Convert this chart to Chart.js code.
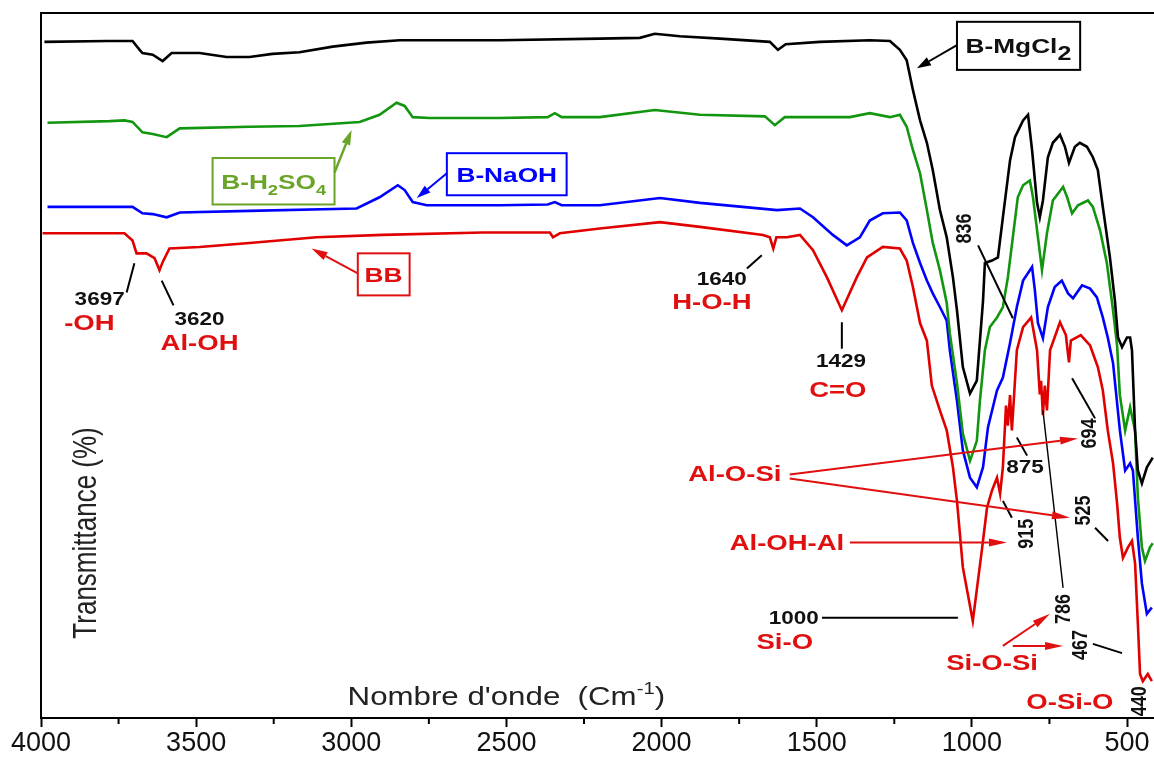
<!DOCTYPE html>
<html><head><meta charset="utf-8">
<script src="https://cdn.jsdelivr.net/npm/chart.js@4.4.0/dist/chart.umd.min.js"></script>
<style>html,body{margin:0;padding:0;background:#fff;}canvas{display:block;}</style>
</head><body>
<canvas id="c" width="1154" height="760"></canvas>
<script>
// ---- data (wavenumber cm-1, transmittance in arbitrary offset %) ----
const xTickValues = [4000, 3500, 3000, 2500, 2000, 1500, 1000, 500];
const xMinorTickValues = [3750, 3250, 2750, 2250, 1750, 1250, 750];

const mgcl2Wn = [3989,3786,3705,3682,3673,3640,3608,3579,3489,3402,3328,3254,3167,3060,2951,2844,2522,2199,2070,2022,1941,1812,1651,1625,1600,1490,1329,1264,1232,1210,1190,1167,1145,1126,1103,1081,1061,1048,1029,1006,984,964,958,935,916,900,877,861,835,819,806,790,781,771,755,739,716,700,687,668,652,629,610,594,578,555,539,529,516,500,490,484,474,465,452,436,417];
const mgcl2T = [84.4,84.5,84.5,83.4,83.0,82.8,82.0,83.0,83.0,82.5,82.5,82.9,83.1,83.8,84.3,84.6,84.6,84.8,84.9,85.4,85.1,84.8,84.4,83.4,84.1,84.4,84.6,84.5,83.4,82.1,78.4,74.6,71.8,68.4,63.4,60.0,55.0,50.9,43.8,40.5,42.1,52.1,56.8,57.1,57.5,62.5,69.6,72.5,74.6,75.3,70.9,64.3,62.5,64.6,70.0,71.8,72.8,71.3,69.3,71.3,71.8,71.3,70.0,68.4,63.8,57.5,52.1,47.5,46.3,47.5,47.5,45.9,35.9,30.9,29.3,31.3,32.5];

const h2so4Wn = [3979,3779,3731,3705,3673,3640,3595,3553,3328,3167,2973,2909,2854,2828,2802,2747,2522,2367,2344,2322,2199,2022,1876,1667,1635,1603,1393,1329,1264,1232,1210,1190,1167,1145,1126,1103,1081,1071,1048,1029,1006,984,974,958,942,919,900,884,868,852,835,813,803,787,774,758,739,706,693,677,658,626,610,587,565,545,532,523,506,490,474,465,452,442,426,417];
const h2so4T = [74.3,74.5,74.6,74.4,73.1,72.9,72.5,73.6,73.8,73.9,74.4,75.3,76.8,76.4,75.0,74.9,74.9,75.0,75.5,75.0,75.0,75.9,75.3,75.1,74.0,75.0,75.0,75.5,75.0,75.3,73.8,70.9,68.0,63.4,59.3,55.9,51.8,48.0,41.8,35.5,32.1,34.6,39.6,45.9,48.8,50.0,51.3,55.0,60.0,65.0,66.5,67.1,65.0,60.0,55.9,60.5,64.6,66.3,65.0,63.0,64.0,64.6,63.8,60.9,56.8,50.9,46.5,40.3,35.9,38.8,35.9,27.5,21.3,19.6,21.3,21.8];

const naohWn = [3979,3705,3673,3640,3595,3553,3328,2983,2909,2850,2828,2802,2757,2522,2367,2344,2322,2199,2005,1876,1628,1554,1512,1448,1403,1361,1329,1287,1232,1210,1190,1167,1145,1126,1103,1081,1071,1048,1029,1006,984,964,948,919,900,877,855,835,806,797,787,771,755,733,710,690,674,645,619,597,578,562,545,523,506,490,481,465,452,436,420];
const naohT = [63.8,63.8,63.0,62.9,62.5,63.1,63.3,63.6,65.0,66.5,65.9,64.4,64.0,64.0,64.1,64.4,64.0,64.0,64.9,64.3,63.4,63.6,62.5,60.3,59.0,60.0,62.1,63.0,63.1,62.1,59.3,56.8,54.6,53.0,51.3,49.6,45.9,39.6,33.4,30.0,28.8,31.3,36.3,40.9,42.5,46.8,51.3,54.6,56.3,53.4,49.3,47.4,51.3,53.8,54.6,53.0,52.4,54.0,53.6,52.5,50.0,47.5,44.3,35.9,30.9,31.8,30.9,22.5,16.8,13.0,13.8];

const bbWn = [3995,3731,3705,3692,3660,3634,3618,3608,3586,3489,3328,3112,2899,2576,2360,2350,2328,2199,2005,1876,1673,1651,1640,1630,1596,1554,1512,1467,1419,1371,1338,1287,1232,1210,1190,1167,1145,1129,1103,1081,1061,1048,1029,997,968,951,935,919,909,900,890,884,877,871,865,855,835,809,790,781,777,771,765,758,748,716,697,687,681,649,619,594,578,562,545,532,523,513,497,484,474,465,458,449,433,420];
const bbT = [60.5,60.5,59.6,58.0,58.0,57.4,55.9,56.9,58.6,58.8,59.3,60.0,60.3,60.6,60.6,60.0,60.5,61.1,61.9,61.3,60.3,60.0,58.6,60.0,60.0,60.3,58.4,55.0,50.9,55.0,57.5,58.8,58.6,57.1,53.8,49.3,47.1,41.5,38.4,35.9,31.3,27.1,18.8,12.1,20.9,26.3,28.4,30.0,28.0,31.3,39.0,36.5,40.3,35.9,39.6,45.9,48.8,50.0,45.9,40.4,42.1,37.8,41.5,38.4,45.9,49.4,47.8,44.4,47.1,47.8,46.5,43.8,40.9,35.9,31.8,26.8,22.5,20.0,21.3,22.1,19.3,11.8,5.5,4.6,5.5,4.6];

const seriesNames = ['B-MgCl2', 'B-H2SO4', 'B-NaOH', 'BB'];
const seriesColors = ['#000000', '#12960f', '#0000ff', '#e00000'];

function pts(wn, t) { return wn.map((w, i) => ({ x: w, y: t[i] })); }

const FONT = "'Liberation Sans', Arial, sans-serif";
const SX = 1.25;

function rich(ctx, x, y, segs, size, weight, color, rot, align) {
  ctx.save();
  ctx.translate(x, y);
  ctx.scale(SX, 1);
  if (rot) ctx.rotate(rot);
  ctx.fillStyle = color;
  ctx.textBaseline = 'alphabetic';
  ctx.textAlign = 'left';
  let widths = segs.map(s => { ctx.font = weight + ' ' + (size * (s.s || 1)) + 'px ' + FONT; return ctx.measureText(s.t).width; });
  const total = widths.reduce((a, b) => a + b, 0);
  let cx = align === 'left' ? 0 : -total / 2;
  const base = 0.36 * size;
  segs.forEach((s, i) => {
    ctx.font = weight + ' ' + (size * (s.s || 1)) + 'px ' + FONT;
    ctx.fillText(s.t, cx, base + (s.dy || 0) * size);
    cx += widths[i];
  });
  ctx.restore();
}
function txt(ctx, x, y, str, size, weight, color, rot, align) {
  rich(ctx, x, y, [{ t: str }], size, weight, color, rot, align);
}
function line(ctx, x1, y1, x2, y2, color, lw) {
  ctx.save(); ctx.strokeStyle = color; ctx.lineWidth = lw; ctx.beginPath(); ctx.moveTo(x1, y1); ctx.lineTo(x2, y2); ctx.stroke(); ctx.restore();
}
function arrow(ctx, x1, y1, x2, y2, color, lw, hl, hw) {
  const a = Math.atan2(y2 - y1, x2 - x1);
  const bx = x2 - hl * Math.cos(a), by = y2 - hl * Math.sin(a);
  ctx.save();
  ctx.strokeStyle = color; ctx.lineWidth = lw;
  ctx.beginPath(); ctx.moveTo(x1, y1); ctx.lineTo(bx, by); ctx.stroke();
  ctx.fillStyle = color;
  ctx.beginPath(); ctx.moveTo(x2, y2);
  ctx.lineTo(bx + hw * Math.sin(a), by - hw * Math.cos(a));
  ctx.lineTo(bx - hw * Math.sin(a), by + hw * Math.cos(a));
  ctx.closePath(); ctx.fill();
  ctx.restore();
}

const annotPlugin = {
  id: 'annot',
  afterDatasetsDraw(chart) {
    const ctx = chart.ctx, xs = chart.scales.x, ys = chart.scales.y;
    const X = w => xs.getPixelForValue(w), Y = t => ys.getPixelForValue(t);
    const RED = '#e01010', BLK = '#111111', OLIVE = '#6aa52a', BLUE = '#0000ff';
    const ROT = -Math.PI / 2;

    // minor ticks
    ctx.save();
    ctx.strokeStyle = '#000'; ctx.lineWidth = 2;
    xMinorTickValues.forEach(v => { const p = X(v); ctx.beginPath(); ctx.moveTo(p, xs.top); ctx.lineTo(p, xs.top + 6); ctx.stroke(); });
    ctx.restore();

    // boxes with labels
    function box(w1, t1, w2, t2, color) {
      ctx.save(); ctx.strokeStyle = color; ctx.lineWidth = 2;
      ctx.strokeRect(X(w1), Y(t1), X(w2) - X(w1), Y(t2) - Y(t1)); ctx.restore();
    }
    box(1048, 86.9, 651, 80.9, '#000');
    rich(ctx, X(850), Y(83.9), [{ t: 'B-MgCl' }, { t: '2', s: 0.95, dy: 0.3 }], 21, 'bold', BLK, 0);
    arrow(ctx, X(1048), Y(84.0), X(1177), Y(81.1), '#000', 2, 14, 4.5);

    box(3447, 69.9, 3054, 64.1, OLIVE);
    rich(ctx, X(3250), Y(67.0), [{ t: 'B-H' }, { t: '2', s: 0.7, dy: 0.3 }, { t: 'SO' }, { t: '4', s: 0.7, dy: 0.3 }], 21, 'bold', OLIVE, 0);
    arrow(ctx, X(3054), Y(68.1), X(2999), Y(73.4), OLIVE, 2.5, 15, 4.5);

    box(2692, 70.5, 2306, 65.25, BLUE);
    txt(ctx, X(2499), Y(67.9), 'B-NaOH', 21, 'bold', BLUE, 0);
    arrow(ctx, X(2692), Y(68.0), X(2789), Y(64.9), BLUE, 2, 14, 4.5);

    box(2979, 58.0, 2812, 52.75, RED);
    txt(ctx, X(2896), Y(55.4), 'BB', 21, 'bold', RED, 0);
    arrow(ctx, X(2979), Y(55.5), X(3128), Y(58.6), RED, 2, 16, 4.5);

    // leader lines
    const L = (w1, t1, w2, t2, lw) => line(ctx, X(w1), Y(t1), X(w2), Y(t2), '#000', lw || 2);
    L(3699, 56.75, 3724, 53.1);
    L(3611, 54.6, 3573, 51.5);
    L(1725, 56.1, 1677, 57.75);
    L(1419, 49.4, 1419, 46.1);
    L(980, 59.0, 868, 49.9);
    L(855, 35.0, 822, 32.75);
    L(677, 42.4, 603, 37.4);
    L(900, 27.1, 871, 25.0);
    L(603, 23.75, 561, 22.1);
    L(1483, 12.5, 1045, 12.5);
    L(771, 38.4, 706, 16.25, 1.4);
    L(610, 9.25, 516, 8.1);

    // numbers
    const N = (w, t, s, rot) => txt(ctx, X(w), Y(t), s, 18, 'bold', BLK, rot || 0);
    N(3811, 52.4, '3697');
    N(3489, 49.9, '3620');
    N(1806, 54.9, '1640');
    N(1422, 44.6, '1429');
    N(829, 31.4, '875');
    N(1574, 12.5, '1000');
    N(1029, 61.1, '836', ROT);
    N(626, 35.5, '694', ROT);
    N(829, 23.0, '915', ROT);
    N(645, 25.9, '525', ROT);
    N(710, 13.6, '786', ROT);
    N(655, 9.1, '467', ROT);
    N(464, 2.1, '440', ROT);

    // red labels
    const R = (w, t, s) => txt(ctx, X(w), Y(t), s, 22, 'bold', RED, 0);
    R(3844, 49.4, '-OH');
    R(3489, 46.9, 'Al-OH');
    R(1838, 52.1, 'H-O-H');
    R(1432, 41.1, 'C=O');
    R(1764, 30.6, 'Al-O-Si');
    R(1596, 21.9, 'Al-OH-Al');
    R(1603, 9.6, 'Si-O');
    R(935, 7.0, 'Si-O-Si');
    R(684, 2.1, 'O-Si-O');

    // red arrows
    const A = (w1, t1, w2, t2) => arrow(ctx, X(w1), Y(t1), X(w2), Y(t2), RED, 2, 18, 4);
    A(1587, 30.4, 658, 34.9);
    A(1587, 29.9, 684, 25.0);
    A(1393, 21.9, 887, 21.9);
    A(900, 9.0, 748, 13.0);
    A(868, 9.0, 706, 9.0);

    // axis titles drawn inside the frame
    txt(ctx, X(3860), Y(23.1), 'Transmittance (%)', 26, 'normal', '#222', ROT);
    rich(ctx, X(3012), Y(2.75), [{ t: "Nombre d'onde  (Cm" }, { t: '-1', s: 0.65, dy: -0.45 }, { t: ')' }], 25, 'normal', '#222', 0, 'left');
  }
};

new Chart(document.getElementById('c'), {
  type: 'line',
  data: {
    datasets: [
      { label: seriesNames[0], data: pts(mgcl2Wn, mgcl2T), borderColor: seriesColors[0] },
      { label: seriesNames[1], data: pts(h2so4Wn, h2so4T), borderColor: seriesColors[1] },
      { label: seriesNames[2], data: pts(naohWn, naohT), borderColor: seriesColors[2] },
      { label: seriesNames[3], data: pts(bbWn, bbT), borderColor: seriesColors[3] }
    ]
  },
  options: {
    responsive: false,
    animation: false,
    devicePixelRatio: 1,
    layout: { padding: { left: 41, top: 13, right: 0, bottom: 0 } },
    elements: { point: { radius: 0 }, line: { borderWidth: 2.6, tension: 0 } },
    plugins: { legend: { display: false }, tooltip: { enabled: false } },
    scales: {
      x: {
        type: 'linear', reverse: true, min: 413, max: 4000, position: 'bottom',
        afterBuildTicks: s => { s.ticks = xTickValues.map(v => ({ value: v })); },
        ticks: { autoSkip: false, maxRotation: 0, color: '#111', padding: 3,
          font: { family: FONT, size: 27, lineHeight: 1.0 }, callback: v => String(v) },
        grid: { drawOnChartArea: false, drawTicks: true, tickLength: 9, tickColor: '#000', tickWidth: 2 },
        border: { display: true, color: '#000', width: 2 }
      },
      x2: {
        type: 'linear', reverse: true, min: 413, max: 4000, position: 'top',
        ticks: { display: false }, grid: { display: false, drawTicks: false },
        border: { display: true, color: '#000', width: 2 }
      },
      y: {
        type: 'linear', min: 0, max: 88, position: 'left',
        ticks: { display: false }, grid: { display: false, drawTicks: false },
        border: { display: true, color: '#000', width: 2 }
      }
    }
  },
  plugins: [annotPlugin]
});
</script>
</body></html>
